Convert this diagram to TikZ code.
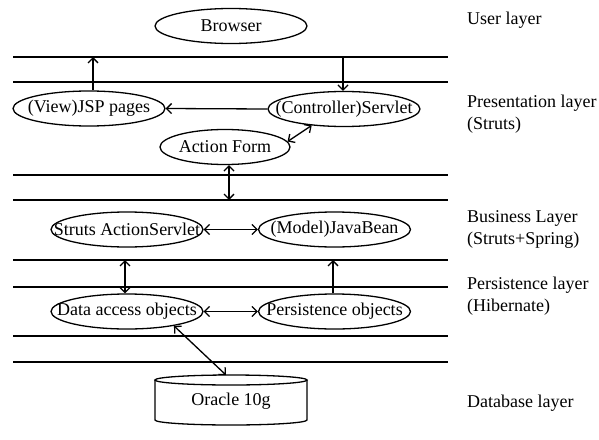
\documentclass[tikz,border=0pt]{standalone}
\usepackage{fontspec}
\setmainfont{Liberation Serif}
\usetikzlibrary{shapes.geometric,arrows.meta}
\begin{document}
\begin{tikzpicture}[x=1pt,y=-1pt,
  every node/.style={font=\fontsize{18}{22}\selectfont},
  box/.style={ellipse,draw,line width=1.3pt,inner sep=0pt,minimum width=152pt,minimum height=35pt},
  rule/.style={line width=1.4pt},
  conn/.style={line width=1.3pt,arrows={-{Straight Barb[length=5pt,width=10pt]}}},
  dconn/.style={line width=1.3pt,arrows={{Straight Barb[length=5pt,width=10pt]}-{Straight Barb[length=5pt,width=10pt]}}},
  lab/.style={anchor=west,align=left,inner sep=0pt}]
\useasboundingbox (0,0) rectangle (599,439);
% layer rules
\foreach \yy in {57,82,175,200,260,287,336,362}
  \draw[rule] (13,\yy) -- (448,\yy);
% nodes
\node[box] (browser) at (231,26) {\makebox[0pt]{Browser}};
\node[box] (jsp) at (89,108.5) {\makebox[0pt]{(View)JSP pages}};
\node[box] (srv) at (344,109) {\makebox[0pt]{(Controller)Servlet}};
\node[box,minimum width=130pt] (af) at (225,147) {\makebox[0pt]{Action Form}};
\node[box] (sas) at (127,229.5) {\makebox[0pt]{Struts ActionServlet}};
\node[box] (jb) at (334.5,229.5) {\makebox[0pt]{(Model)JavaBean}};
\node[box] (dao) at (127,311.5) {\makebox[0pt]{Data access objects}};
\node[box] (po) at (334.5,311.5) {\makebox[0pt]{Persistence objects}};
% database cylinder
\draw[line width=1.3pt] (231,380) ellipse [x radius=76pt, y radius=5pt];
\draw[line width=1.3pt] (155,380) -- (155,420) arc[start angle=180,end angle=360,x radius=76pt,y radius=5pt] -- (307,380);
\node (db) at (231,401) {Oracle 10g};
\coordinate (dbtop) at (226,375);
% helper coordinates on rules
\coordinate (c1) at (93,57);
\coordinate (c1b) at (343,57);
\coordinate (c2) at (229,200);
\coordinate (c3) at (125,260);
\coordinate (c4) at (333,260);
% connectors
\draw[conn] (c1 |- jsp.north) -- (c1);
\draw[conn] (c1b) -- (c1b |- srv.north);
\draw[conn] (srv.west) -- (jsp.east);
\draw[dconn] (af.5) -- (srv.207);
\draw[dconn] (c2 |- af.south) -- (c2);
\draw[dconn] (sas.east) -- (jb.west);
\draw[dconn] (c3) -- (c3 |- dao.north);
\draw[conn] (c4 |- po.north) -- (c4);
\draw[dconn] (dao.east) -- (po.west);
\draw[dconn] (dao.-17) -- (dbtop);
% layer labels
\node[lab] (l1) at (467,20) {User layer};
\node[lab] (l2) at (467,114) {Presentation layer\\(Struts)};
\node[lab] (l3) at (467,229) {Business Layer\\(Struts+Spring)};
\node[lab] (l4) at (467,296) {Persistence layer\\(Hibernate)};
\node[lab] (l5) at (467,403) {Database layer};
\end{tikzpicture}
\end{document}
